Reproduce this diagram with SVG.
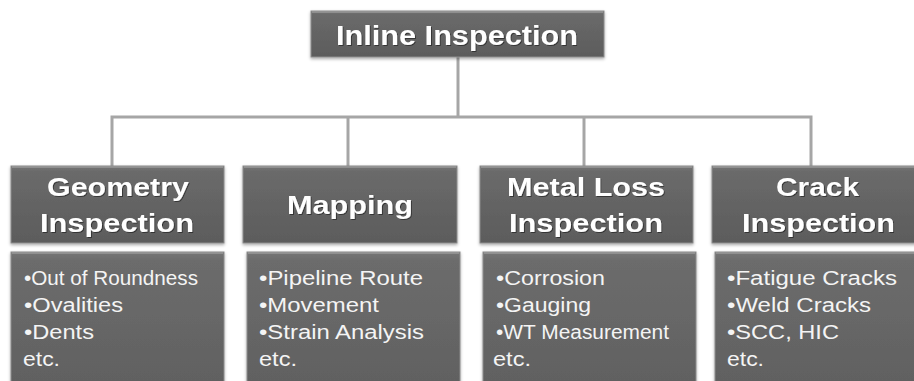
<svg xmlns="http://www.w3.org/2000/svg" width="914" height="381" viewBox="0 0 914 381">
<defs>
<linearGradient id="boxGrad" x1="0" y1="0" x2="0" y2="1">
<stop offset="0" stop-color="#747474"/>
<stop offset="0.08" stop-color="#6a6a6a"/>
<stop offset="1" stop-color="#5c5c5c"/>
</linearGradient>
<linearGradient id="bodyGrad" x1="0" y1="0" x2="0" y2="1">
<stop offset="0" stop-color="#767676"/>
<stop offset="0.06" stop-color="#6c6c6c"/>
<stop offset="1" stop-color="#606060"/>
</linearGradient>
<filter id="shadow" x="-5%" y="-10%" width="110%" height="125%">
<feDropShadow dx="0" dy="1.5" stdDeviation="1.5" flood-color="#000" flood-opacity="0.35"/>
</filter>
<filter id="tshadow" x="-5%" y="-20%" width="110%" height="140%">
<feDropShadow dx="1" dy="1" stdDeviation="0.6" flood-color="#000" flood-opacity="0.45"/>
</filter>
</defs>
<style>
.box{fill:url(#boxGrad);stroke:#8c8c8c;stroke-width:1;filter:url(#shadow)}
.body{fill:url(#bodyGrad);stroke:#8c8c8c;stroke-width:1;filter:url(#shadow)}
.hl{stroke:#9a9a9a;stroke-width:1.5}
.h{font-family:"Liberation Sans",Arial,sans-serif;font-weight:bold;font-size:25px;fill:#ffffff;filter:url(#tshadow)}
.t{font-family:"Liberation Sans",Arial,sans-serif;font-size:20px;fill:#f4f4f4}
.conn{fill:none;stroke:#a6a6a6;stroke-width:3}
</style>
<rect width="914" height="381" fill="#ffffff"/>
<g id="connectors">
<path class="conn" d="M458 57 V117"/>
<path class="conn" d="M112 166 V117 H811 V166"/>
<path class="conn" d="M348 117 V166"/>
<path class="conn" d="M584 117 V166"/>
</g>
<g id="inline-inspection">
<rect class="box" x="311" y="11" width="293" height="46"/>
<line class="hl" x1="312" y1="12" x2="603" y2="12"/>
<text class="h" x="336" y="45" textLength="242" lengthAdjust="spacingAndGlyphs" style="font-size:28px">Inline Inspection</text>
</g>
<g id="geometry">
<rect class="box" x="11" y="166" width="213" height="77"/>
<line class="hl" x1="12" y1="167" x2="223" y2="167"/>
<text class="h" x="47" y="196" textLength="142" lengthAdjust="spacingAndGlyphs">Geometry</text>
<text class="h" x="40" y="232" textLength="154" lengthAdjust="spacingAndGlyphs">Inspection</text>
</g>
<g id="geometry-details">
<rect class="body" x="11" y="252" width="213" height="140"/>
<line class="hl" x1="12" y1="253" x2="223" y2="253"/>
<text class="t" x="24" y="285" textLength="174" lengthAdjust="spacingAndGlyphs">•Out of Roundness</text>
<text class="t" x="24" y="312" textLength="99" lengthAdjust="spacingAndGlyphs">•Ovalities</text>
<text class="t" x="24" y="339" textLength="70" lengthAdjust="spacingAndGlyphs">•Dents</text>
<text class="t" x="23" y="366" textLength="37" lengthAdjust="spacingAndGlyphs">etc.</text>
</g>
<g id="mapping">
<rect class="box" x="243" y="166" width="214" height="77"/>
<line class="hl" x1="244" y1="167" x2="456" y2="167"/>
<text class="h" x="287" y="214" textLength="126" lengthAdjust="spacingAndGlyphs">Mapping</text>
</g>
<g id="mapping-details">
<rect class="body" x="247" y="252" width="213" height="140"/>
<line class="hl" x1="248" y1="253" x2="459" y2="253"/>
<text class="t" x="259" y="285" textLength="164" lengthAdjust="spacingAndGlyphs">•Pipeline Route</text>
<text class="t" x="259" y="312" textLength="120" lengthAdjust="spacingAndGlyphs">•Movement</text>
<text class="t" x="259" y="339" textLength="165" lengthAdjust="spacingAndGlyphs">•Strain Analysis</text>
<text class="t" x="259" y="366" textLength="38" lengthAdjust="spacingAndGlyphs">etc.</text>
</g>
<g id="metal-loss">
<rect class="box" x="480" y="166" width="213" height="77"/>
<line class="hl" x1="481" y1="167" x2="692" y2="167"/>
<text class="h" x="507" y="196" textLength="158" lengthAdjust="spacingAndGlyphs">Metal Loss</text>
<text class="h" x="509" y="232" textLength="154" lengthAdjust="spacingAndGlyphs">Inspection</text>
</g>
<g id="metal-loss-details">
<rect class="body" x="483" y="252" width="213" height="140"/>
<line class="hl" x1="484" y1="253" x2="695" y2="253"/>
<text class="t" x="496" y="285" textLength="109" lengthAdjust="spacingAndGlyphs">•Corrosion</text>
<text class="t" x="496" y="312" textLength="95" lengthAdjust="spacingAndGlyphs">•Gauging</text>
<text class="t" x="496" y="339" textLength="173" lengthAdjust="spacingAndGlyphs">•WT Measurement</text>
<text class="t" x="493" y="366" textLength="38" lengthAdjust="spacingAndGlyphs">etc.</text>
</g>
<g id="crack">
<rect class="box" x="712" y="166" width="213" height="77"/>
<line class="hl" x1="713" y1="167" x2="914" y2="167"/>
<text class="h" x="776" y="196" textLength="83" lengthAdjust="spacingAndGlyphs">Crack</text>
<text class="h" x="742" y="232" textLength="153" lengthAdjust="spacingAndGlyphs">Inspection</text>
</g>
<g id="crack-details">
<rect class="body" x="715" y="252" width="213" height="140"/>
<line class="hl" x1="716" y1="253" x2="914" y2="253"/>
<text class="t" x="727" y="285" textLength="170" lengthAdjust="spacingAndGlyphs">•Fatigue Cracks</text>
<text class="t" x="727" y="312" textLength="144" lengthAdjust="spacingAndGlyphs">•Weld Cracks</text>
<text class="t" x="727" y="339" textLength="112" lengthAdjust="spacingAndGlyphs">•SCC, HIC</text>
<text class="t" x="727" y="366" textLength="37" lengthAdjust="spacingAndGlyphs">etc.</text>
</g>
</svg>
